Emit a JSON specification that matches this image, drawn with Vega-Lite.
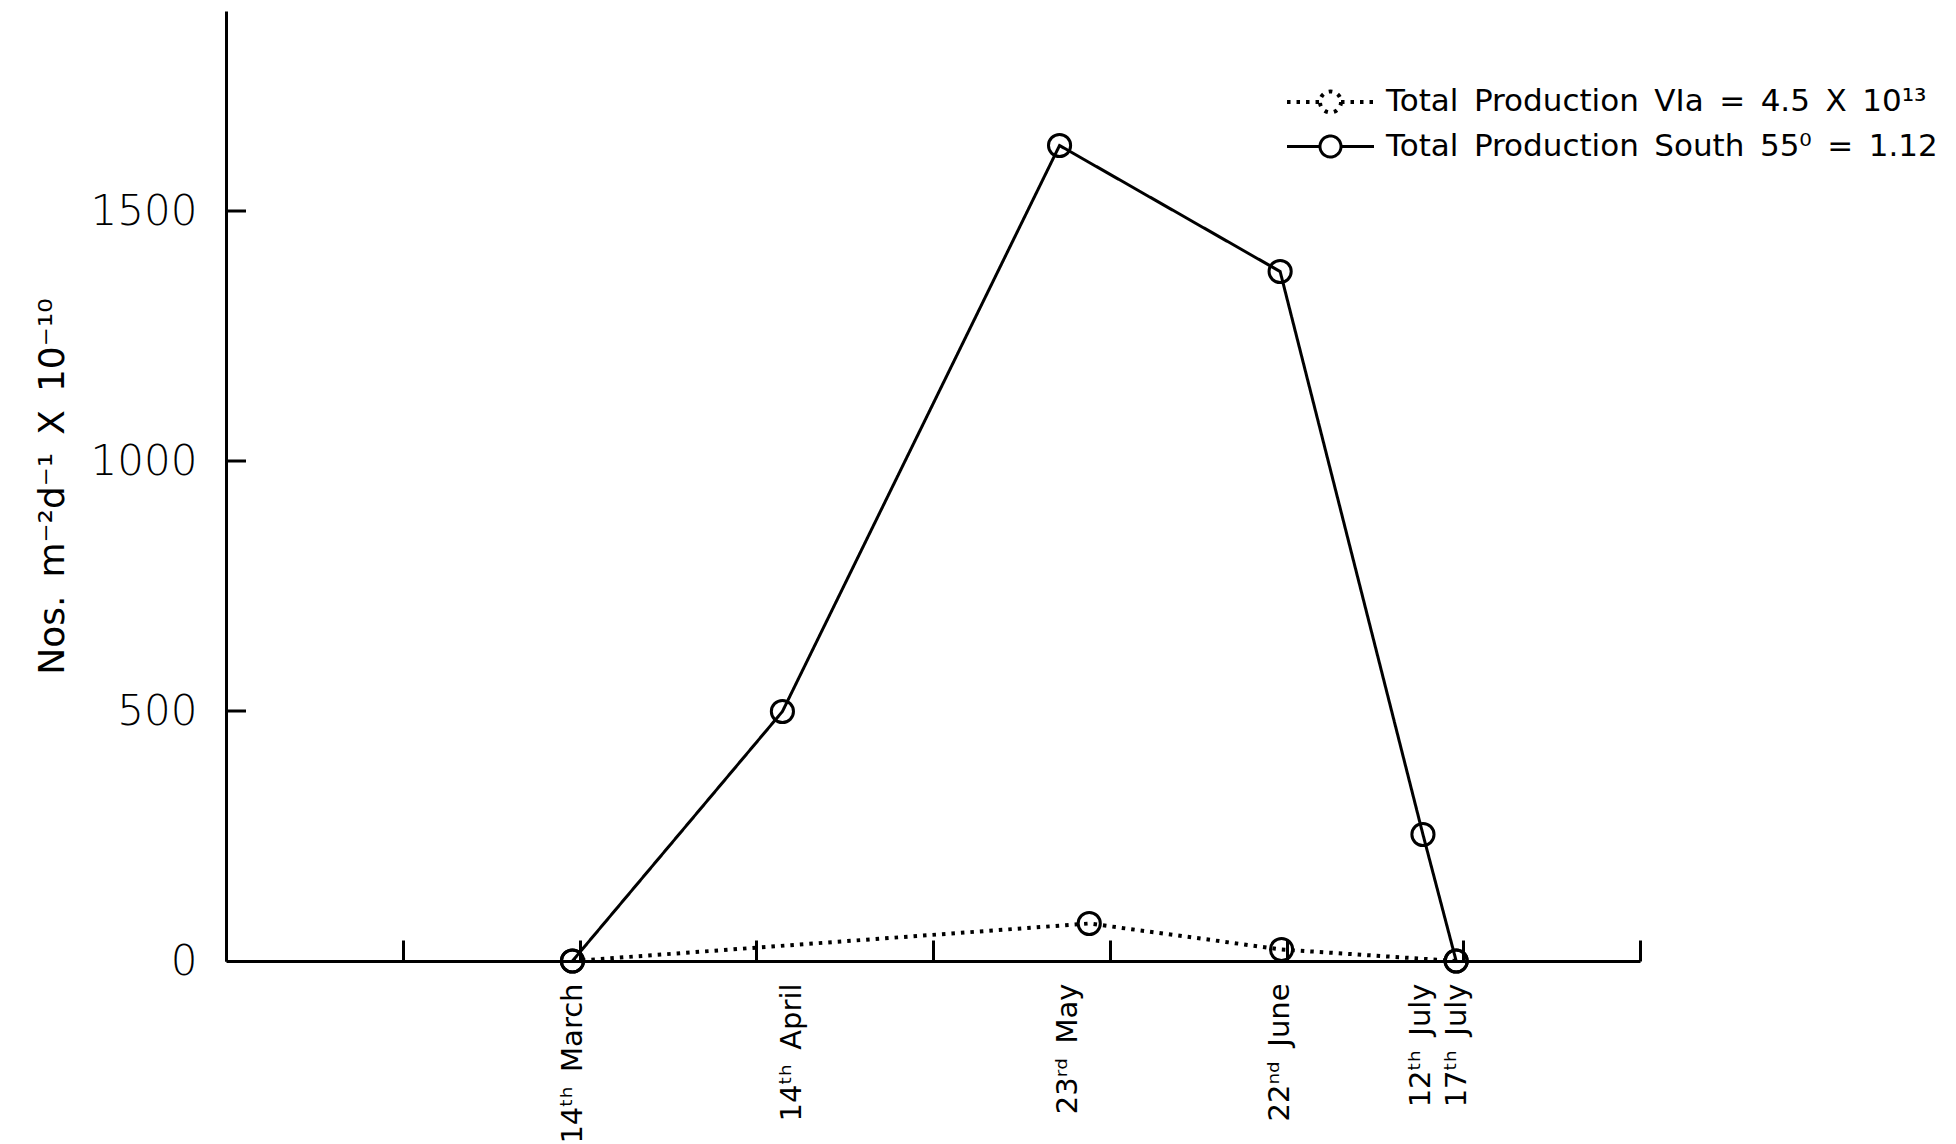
{
  "$schema": "https://vega.github.io/schema/vega-lite/v6.json",
  "width": 1414,
  "height": 950,
  "autosize": {"type": "none"},
  "padding": {"left": 226, "top": 11, "right": 316, "bottom": 183},
  "background": "white",
  "config": {
    "view": {"stroke": null},
    "font": "DejaVu Sans",
    "axis": {"grid": false, "domainColor": "black", "domainWidth": 3, "tickColor": "black", "tickWidth": 3, "labelColor": "black", "titleColor": "black"}
  },
  "datasets": {
    "series": [
      {"series": "South", "day": 74, "value": 0},
      {"series": "South", "day": 103.7, "value": 499},
      {"series": "South", "day": 142.9, "value": 1631},
      {"series": "South", "day": 174.1, "value": 1379},
      {"series": "South", "day": 194.3, "value": 253},
      {"series": "South", "day": 199, "value": 0},
      {"series": "VIa", "day": 74, "value": 0},
      {"series": "VIa", "day": 147.1, "value": 75},
      {"series": "VIa", "day": 174.3, "value": 23},
      {"series": "VIa", "day": 199, "value": 0}
    ],
    "ticks": [
      {"day": 25}, {"day": 50}, {"day": 75}, {"day": 100}, {"day": 125},
      {"day": 150}, {"day": 175}, {"day": 200}, {"day": 225}
    ],
    "yticks": [
      {"value": 500}, {"value": 1000}, {"value": 1500}
    ]
  },
  "data": {"name": "series"},
  "layer": [
    {
      "mark": {"type": "line", "color": "black"},
      "encoding": {
        "x": {
          "field": "day", "type": "quantitative",
          "scale": {"domain": [25, 225], "nice": false, "zero": false},
          "axis": {
            "orient": "bottom", "title": null,
            "values": [74, 105, 144, 174, 194, 199],
            "ticks": false, "labelAngle": 270, "labelFontSize": 29, "labelPadding": 22,
            "labelOverlap": false, "labelBound": false, "labelFlush": false,
            "labelExpr": "datum.value == 74 ? '14ᵗʰ\u2002March' : datum.value == 105 ? '14ᵗʰ\u2002April' : datum.value == 144 ? '23ʳᵈ\u2002May' : datum.value == 174 ? '22ⁿᵈ\u2002June' : datum.value == 194 ? '12ᵗʰ\u2002July' : '17ᵗʰ\u2002July'"
          }
        },
        "y": {
          "field": "value", "type": "quantitative",
          "scale": {"domain": [0, 1900], "nice": false},
          "axis": {
            "orient": "left",
            "values": [0, 500, 1000, 1500], "format": "d",
            "ticks": false, "labelPadding": 29,
            "labelFontSize": 42, "labelFontWeight": 200,
            "title": "Nos.\u2002m⁻²d⁻¹\u2002X\u200210⁻¹⁰", "titleFontSize": 36, "titleFontWeight": "normal",
            "titleAngle": 270, "titleX": -163, "titleY": 475, "titleAlign": "center", "titleBaseline": "alphabetic"
          }
        },
        "strokeWidth": {
          "field": "series", "type": "nominal",
          "scale": {"domain": ["VIa", "South"], "range": [4, 3]},
          "legend": null
        },
        "strokeDash": {
          "field": "series", "type": "nominal",
          "scale": {"domain": ["VIa", "South"], "range": [[3.5, 6], [1, 0]]},
          "legend": {
            "orient": "none", "legendX": 1079.5, "legendY": 66, "title": null, "padding": 0,
            "symbolType": "M-1.89,0L-0.457,0M0.457,0A0.457,0.457,0,1,1,-0.457,0A0.457,0.457,0,1,1,0.457,0M0.457,0L1.89,0",
            "symbolSize": 2116, "symbolStrokeWidth": 3, "symbolStrokeColor": "black", "symbolFillColor": "transparent",
            "labelFontSize": 31, "labelOffset": 30.5, "labelColor": "black", "rowPadding": 1, "labelLimit": 0,
            "labelExpr": "datum.value == 'VIa' ? 'Total\u2002Production\u2002VIa\u2002=\u20024.5\u2002X\u200210¹³' : 'Total\u2002Production\u2002South\u200255⁰\u2002=\u20021.12'"
          }
        }
      }
    },
    {
      "mark": {"type": "point", "size": 490, "strokeWidth": 3, "color": "black", "filled": false, "opacity": 1},
      "encoding": {
        "x": {"field": "day", "type": "quantitative", "scale": {"domain": [25, 225], "nice": false, "zero": false}, "axis": null},
        "y": {"field": "value", "type": "quantitative", "axis": null}
      }
    },
    {
      "data": {"name": "ticks"},
      "mark": {"type": "rule", "opacity": 0},
      "encoding": {
        "x": {
          "field": "day", "type": "quantitative",
          "scale": {"domain": [25, 225], "nice": false, "zero": false},
          "axis": {
            "orient": "bottom", "title": null, "values": [25, 50, 75, 100, 125, 150, 175, 200, 225],
            "labels": false, "domain": false, "tickSize": -21
          }
        }
      }
    },
    {
      "data": {"name": "yticks"},
      "mark": {"type": "tick", "orient": "horizontal", "color": "black", "thickness": 3, "size": 20, "opacity": 1, "xOffset": 10},
      "encoding": {
        "y": {"field": "value", "type": "quantitative", "axis": null},
        "x": {"datum": 25, "type": "quantitative", "axis": null}
      }
    }
  ],
  "resolve": {"axis": {"x": "independent", "y": "independent"}}
}
